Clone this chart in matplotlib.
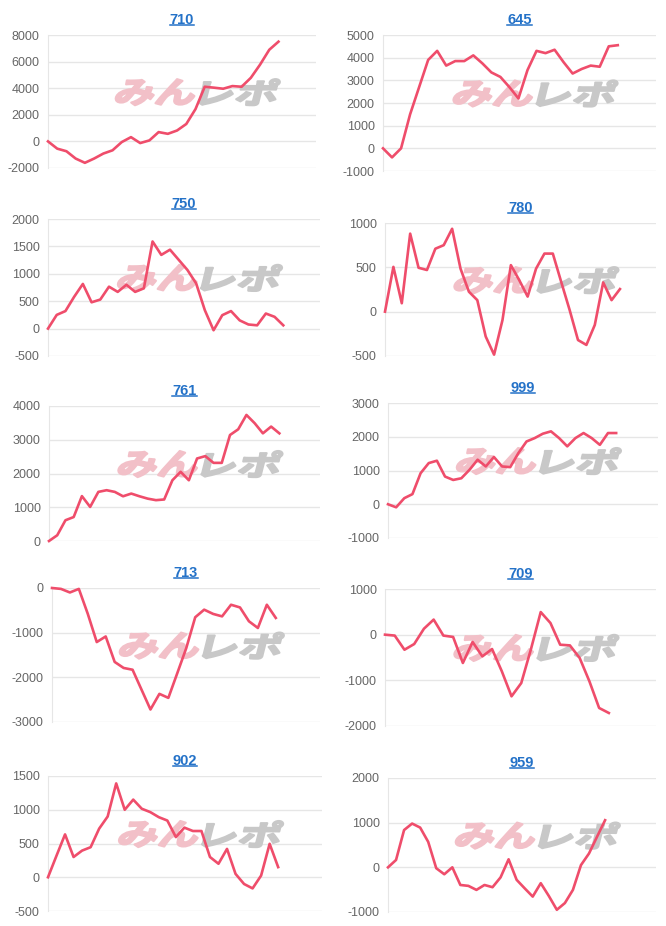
import numpy as np
import matplotlib.pyplot as plt
from matplotlib.textpath import TextPath
from matplotlib.font_manager import FontProperties
from matplotlib.patches import PathPatch
from matplotlib.transforms import Affine2D
from matplotlib.lines import Line2D

plt.rcParams['font.family'] = ['Liberation Sans', 'DejaVu Sans']
plt.rcParams['axes.unicode_minus'] = False

# machine numbers shown as panel titles
titles = ['710', '645', '750', '780', '761', '999', '713', '709', '902', '959']

# medal difference per machine
s710 = [0, -545, -740, -1290, -1610, -1290, -915, -670, -50, 320, -125, 75, 700,
        570, 820, 1310, 2430, 4110, 4040, 3960, 4160, 4110, 4780, 5770, 6890, 7500]
s645 = [0, -400, 0, 1500, 2700, 3900, 4300, 3650, 3850, 3850, 4100, 3750, 3350,
        3150, 2700, 2200, 3450, 4300, 4200, 4350, 3800, 3300, 3500, 3650, 3600,
        4500, 4550]
s750 = [0, 250, 320, 580, 815, 480, 530, 765, 670, 800, 670, 735, 1590, 1345,
        1440, 1255, 1070, 825, 335, -30, 245, 320, 150, 75, 60, 275, 215, 60]
s780 = [0, 505, 95, 880, 495, 470, 710, 750, 935, 485, 225, 130, -280, -485, -95,
        525, 355, 170, 485, 655, 655, 335, 20, -320, -375, -150, 330, 130, 255]
s761 = [0, 170, 615, 710, 1330, 1010, 1455, 1505, 1455, 1325, 1405, 1325, 1255,
        1210, 1230, 1800, 2050, 1800, 2445, 2515, 2315, 2315, 3140, 3310, 3735,
        3490, 3190, 3390, 3190]
s999 = [0, -90, 180, 300, 920, 1220, 1290, 820, 720, 770, 1020, 1320, 1120, 1400,
        1120, 1100, 1515, 1860, 1960, 2090, 2160, 1960, 1715, 1960, 2110, 1960,
        1760, 2110, 2110]
s713 = [0, -20, -100, -20, -580, -1210, -1085, -1655, -1790, -1830, -2275, -2720,
        -2370, -2460, -1905, -1345, -655, -485, -580, -635, -375, -435, -745,
        -895, -375, -670]
s709 = [0, -20, -330, -205, 130, 330, -20, -50, -620, -160, -475, -315, -800,
        -1350, -1060, -315, 495, 255, -220, -235, -510, -1020, -1605, -1715]
s902 = [0, 320, 635, 300, 395, 445, 720, 900, 1390, 1000, 1150, 1015, 965, 890,
        840, 595, 735, 685, 685, 300, 200, 420, 50, -100, -165, 25, 495, 150]
s959 = [0, 165, 835, 980, 890, 570, -20, -155, 0, -395, -415, -505, -395, -445,
        -225, 180, -280, -470, -655, -355, -640, -950, -800, -505, 50, 310, 685,
        1055]
series = [s710, s645, s750, s780, s761, s999, s713, s709, s902, s959]

# y axis: min, max, step
yranges = [(-2000, 8000, 2000), (-1000, 5000, 1000), (-500, 2000, 500),
           (-500, 1000, 500), (0, 4000, 1000), (-1000, 3000, 1000),
           (-3000, 0, 1000), (-2000, 1000, 1000), (-500, 1500, 500),
           (-1000, 2000, 1000)]

W, H = 666, 926
fig = plt.figure(figsize=(W / 100, H / 100), dpi=100)
fig.patch.set_facecolor('white')

# plot boxes in pixels (left, top, right, bottom)
boxes = [(48, 35, 316, 168), (383, 35, 656, 171),
         (48, 219, 320, 356), (385, 223, 656, 356),
         (49, 406, 320, 541), (388, 403, 658, 538),
         (52, 588, 320, 722), (385, 589, 656, 726),
         (48, 776, 322, 911), (388, 778, 656, 912)]
# where the line stops along the x axis
end_frac = [0.86, 0.86, 0.865, 0.867, 0.85, 0.845, 0.835, 0.826, 0.84, 0.81]

line_col = '#ef4d6b'
grid_col = '#e6e6e6'
title_col = '#2472c8'

fp = FontProperties(family='Noto Sans CJK JP', weight='bold')
path_pink = TextPath((0, 0), 'みん', size=1, prop=fp)
path_grey = TextPath((0, 0), 'レポ', size=1, prop=fp)


def watermark(ax, path, x_px, y_px, w_px, h_px, color):
    ext = path.get_extents()
    tr = (Affine2D().translate(-ext.x0, -ext.y0)
          .scale(w_px / ext.width / 100, h_px / ext.height / 100)
          .skew_deg(14, 0)
          .translate(x_px / 100, y_px / 100) + fig.dpi_scale_trans)
    patch = PathPatch(path, facecolor=color, edgecolor=color, lw=1.6,
                      joinstyle='round', transform=tr, zorder=2)
    ax.add_artist(patch)


title_objs = []
for i in range(len(series)):
    l, t, r, b = boxes[i]
    ax = fig.add_axes([l / W, 1 - b / H, (r - l) / W, (b - t) / H])
    y = series[i]
    x = np.arange(len(y))
    ax.plot(x, y, color=line_col, lw=1.9, zorder=3, solid_joinstyle='round',
            clip_on=False)
    lo, hi, st = yranges[i]
    ax.set_ylim(lo, hi)
    ax.set_yticks(np.arange(lo, hi + 1, st))
    ax.set_xlim(0, (len(y) - 1) / end_frac[i])
    ax.set_xticks([])
    ax.grid(axis='y', color=grid_col, lw=1)
    ax.set_axisbelow(True)
    for s in ['top', 'right', 'bottom']:
        ax.spines[s].set_visible(False)
    ax.spines['left'].set_color(grid_col)
    ax.tick_params(axis='y', length=0, pad=6, labelsize=9, labelcolor='#666666')
    title_objs.append(ax.set_title(titles[i], color=title_col, fontsize=10.5,
                                   fontweight='bold', pad=8))

    # みんレポ watermark
    cx = l + 0.545 * (r - l)
    cy = H - (b - 0.57 * (b - t))
    watermark(ax, path_pink, cx - 80, cy - 13, 78, 26, '#f2c0c8')
    watermark(ax, path_grey, cx + 4, cy - 13, 76, 26, '#c8c8c8')

# underline the titles like links
fig.canvas.draw()
for tt in title_objs:
    bb = tt.get_window_extent()
    fig.add_artist(Line2D([bb.x0 / W, bb.x1 / W], [(bb.y0 + 1.5) / H] * 2,
                          color=title_col, lw=1.1, transform=fig.transFigure))

fig.savefig('out.png', dpi=100)
